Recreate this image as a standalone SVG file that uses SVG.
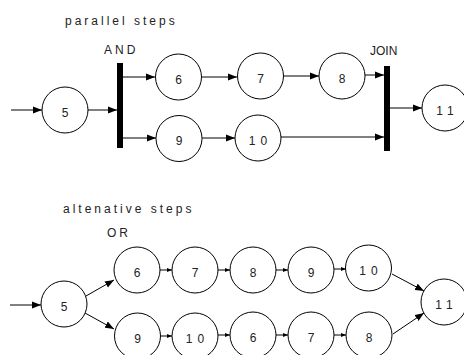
<svg xmlns="http://www.w3.org/2000/svg" width="464" height="355" viewBox="0 0 464 355">
<defs>
<style>
.n circle{fill:#fff;stroke:#000;stroke-width:1}
.n text{font-family:"Liberation Sans",Arial,sans-serif;font-size:12px;fill:#222;text-anchor:middle;letter-spacing:5px}
.lbl{font-family:"Liberation Sans",Arial,sans-serif;font-size:12px;fill:#222;letter-spacing:3px}
.bar{fill:#000}
#edges line{stroke:#000;stroke-width:1;marker-end:url(#ah)}
#edges line.s{marker-end:url(#as)}
</style>
<marker id="ah" markerUnits="userSpaceOnUse" markerWidth="10" markerHeight="8" refX="9" refY="4" orient="auto"><path d="M0,0.5 L9,4 L0,7.5 Z" fill="#000"/></marker>
<marker id="as" markerUnits="userSpaceOnUse" markerWidth="6" markerHeight="5" refX="5" refY="2.5" orient="auto"><path d="M0,0.5 L5,2.5 L0,4.5 Z" fill="#000"/></marker>
</defs>
<rect width="464" height="355" fill="#fff"/>
<text class="lbl" x="65" y="25">parallel steps</text>
<text class="lbl" x="104" y="54">AND</text>
<text class="lbl" x="370" y="55" style="letter-spacing:0">JOIN</text>
<text class="lbl" x="63" y="213">altenative steps</text>
<text class="lbl" x="107" y="237">OR</text>
<g id="and-bar"><rect class="bar" x="117" y="63" width="6" height="85"/></g>
<g id="join-bar"><rect class="bar" x="384" y="66" width="6" height="85"/></g>
<g id="edges">
<line x1="11" y1="110" x2="42" y2="110"/>
<line x1="88" y1="110" x2="117" y2="110"/>
<line x1="123" y1="77" x2="155" y2="77"/>
<line x1="123" y1="138" x2="156" y2="138"/>
<line x1="202" y1="77" x2="237" y2="77"/>
<line x1="202" y1="138" x2="235" y2="138"/>
<line x1="284" y1="76" x2="319" y2="76"/>
<line x1="365" y1="75" x2="384" y2="75"/>
<line x1="281" y1="137" x2="384" y2="137"/>
<line x1="390" y1="108" x2="422" y2="108"/>
<line x1="10" y1="305" x2="41" y2="305"/>
<line x1="86" y1="296" x2="114" y2="280"/>
<line x1="85" y1="313" x2="114" y2="329"/>
<line class="s" x1="160" y1="270" x2="172" y2="270"/>
<line class="s" x1="218" y1="270" x2="230" y2="270"/>
<line class="s" x1="276" y1="270" x2="288" y2="270"/>
<line class="s" x1="334" y1="269" x2="346" y2="269"/>
<line class="s" x1="160" y1="336" x2="172" y2="336"/>
<line class="s" x1="218" y1="335" x2="230" y2="335"/>
<line class="s" x1="276" y1="335" x2="288" y2="335"/>
<line class="s" x1="334" y1="335" x2="346" y2="335"/>
<line x1="392" y1="274" x2="424" y2="291"/>
<line x1="393" y1="334" x2="424" y2="313"/>
</g>
<g id="p5" class="n"><circle cx="65" cy="110" r="23"/><text x="67.5" y="116.5">5</text></g>
<g id="p6" class="n"><circle cx="178.5" cy="77" r="23"/><text x="181" y="83.5">6</text></g>
<g id="p7" class="n"><circle cx="260.5" cy="76" r="23"/><text x="263" y="82.5">7</text></g>
<g id="p8" class="n"><circle cx="342" cy="76" r="23"/><text x="344.5" y="82.5">8</text></g>
<g id="p9" class="n"><circle cx="179" cy="138.5" r="23"/><text x="181.5" y="145">9</text></g>
<g id="p10" class="n"><circle cx="258" cy="138" r="23"/><text x="260.5" y="144.5">10</text></g>
<g id="p11" class="n"><circle cx="445" cy="108" r="23"/><text x="447.5" y="114.5">11</text></g>
<g id="a5" class="n"><circle cx="64" cy="304" r="23"/><text x="66.5" y="310.5">5</text></g>
<g id="a6" class="n"><circle cx="137" cy="270" r="23"/><text x="139.5" y="276.5">6</text></g>
<g id="a7" class="n"><circle cx="195" cy="270" r="23"/><text x="197.5" y="276.5">7</text></g>
<g id="a8" class="n"><circle cx="253" cy="270" r="23"/><text x="255.5" y="276.5">8</text></g>
<g id="a9" class="n"><circle cx="311" cy="270" r="23"/><text x="313.5" y="276.5">9</text></g>
<g id="a10" class="n"><circle cx="368.5" cy="268" r="23"/><text x="371" y="274.5">10</text></g>
<g id="a11" class="n"><circle cx="444" cy="302" r="23"/><text x="446.5" y="308.5">11</text></g>
<g id="b9" class="n"><circle cx="137.5" cy="336" r="23"/><text x="140" y="342.5">9</text></g>
<g id="b10" class="n"><circle cx="195" cy="336" r="23"/><text x="197.5" y="342.5">10</text></g>
<g id="b6" class="n"><circle cx="253" cy="335" r="23"/><text x="255.5" y="341.5">6</text></g>
<g id="b7" class="n"><circle cx="311" cy="335" r="23"/><text x="313.5" y="341.5">7</text></g>
<g id="b8" class="n"><circle cx="369" cy="335" r="23"/><text x="371.5" y="341.5">8</text></g>
</svg>
